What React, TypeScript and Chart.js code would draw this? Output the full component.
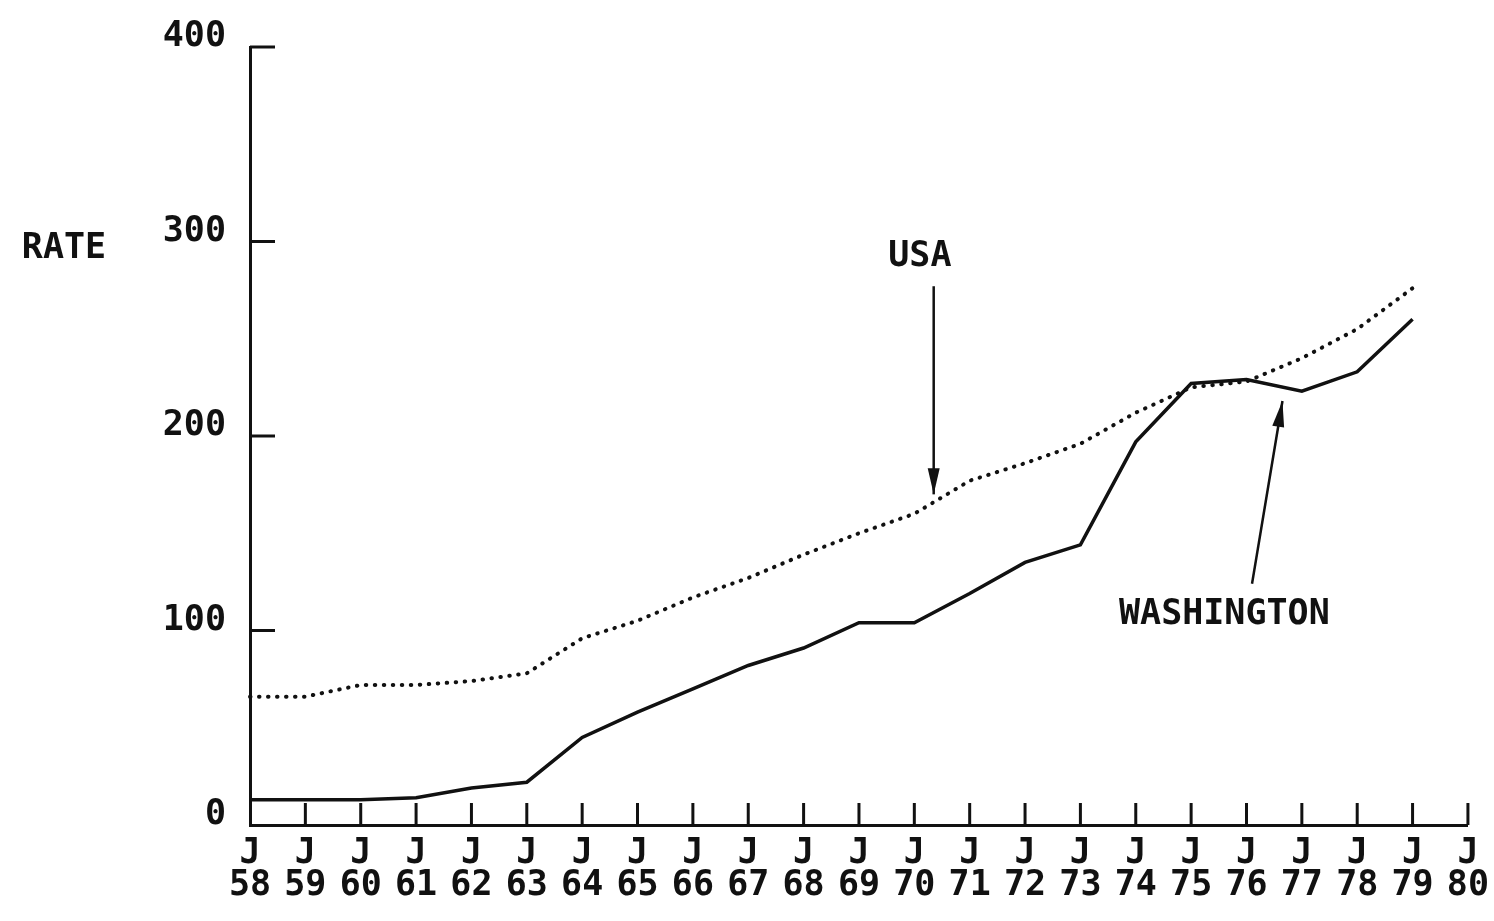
import React, { useEffect, useRef } from "react";
import { Chart, registerables } from "chart.js";

Chart.register(...registerables);

// ---- data ----
const years = [58, 59, 60, 61, 62, 63, 64, 65, 66, 67, 68, 69, 70, 71, 72, 73, 74, 75, 76, 77, 78, 79, 80];
const washington = [13, 13, 13, 14, 19, 22, 45, 58, 70, 82, 91, 104, 104, 119, 135, 144, 197, 227, 229, 223, 233, 260];
const usa = [66, 66, 72, 72, 74, 78, 96, 105, 117, 127, 139, 150, 160, 177, 186, 196, 212, 225, 228, 240, 255, 276];
const yTicks = [0, 100, 200, 300, 400];

const INK = "#111111";
const FONT = '"DejaVu Sans Mono", "Liberation Mono", monospace';
const WEIGHT = "bold";

const overlay = {
  id: "overlay",
  afterDraw(chart: any) {
    const { ctx, chartArea } = chart;
    const x = chart.scales.x;
    const y = chart.scales.y;
    ctx.save();
    ctx.strokeStyle = INK;
    ctx.fillStyle = INK;
    ctx.lineWidth = 3;
    ctx.lineCap = "butt";

    // x tick marks (upward, inside)
    for (let i = 1; i < years.length; i++) {
      const px = x.getPixelForValue(i);
      ctx.beginPath();
      ctx.moveTo(px, chartArea.bottom);
      ctx.lineTo(px, chartArea.bottom - 22);
      ctx.stroke();
    }
    // y tick marks (rightward, inside)
    for (const v of yTicks) {
      if (v === 0) continue;
      const py = y.getPixelForValue(v);
      ctx.beginPath();
      ctx.moveTo(chartArea.left, py);
      ctx.lineTo(chartArea.left + 25, py);
      ctx.stroke();
    }

    ctx.font = `${WEIGHT} 35px ${FONT}`;
    ctx.textAlign = "center";
    ctx.textBaseline = "middle";

    // axis title
    ctx.fillText("RATE", chartArea.left - 186, y.getPixelForValue(296));

    // annotations
    ctx.fillText("USA", x.getPixelForValue(12.1), y.getPixelForValue(292));
    ctx.fillText("WASHINGTON", x.getPixelForValue(17.6), y.getPixelForValue(108));

    const arrow = (x1: number, y1: number, x2: number, y2: number) => {
      ctx.lineWidth = 2.5;
      ctx.beginPath();
      ctx.moveTo(x1, y1);
      ctx.lineTo(x2, y2);
      ctx.stroke();
      const ang = Math.atan2(y2 - y1, x2 - x1);
      const len = 26;
      const half = 6;
      const bx = x2 - len * Math.cos(ang);
      const by = y2 - len * Math.sin(ang);
      ctx.beginPath();
      ctx.moveTo(x2, y2);
      ctx.lineTo(bx + half * Math.sin(ang), by - half * Math.cos(ang));
      ctx.lineTo(bx - half * Math.sin(ang), by + half * Math.cos(ang));
      ctx.closePath();
      ctx.fill();
    };
    arrow(x.getPixelForValue(12.35), y.getPixelForValue(277), x.getPixelForValue(12.35), y.getPixelForValue(170));
    arrow(x.getPixelForValue(18.1), y.getPixelForValue(124), x.getPixelForValue(18.65), y.getPixelForValue(218));

    ctx.restore();
  },
};

export default function App() {
  const ref = useRef<HTMLCanvasElement | null>(null);

  useEffect(() => {
    if (!ref.current) return;
    const chart = new Chart(ref.current, {
      type: "line",
      data: {
        labels: years.map((yr) => ["J", String(yr)]),
        datasets: [
          {
            label: "USA",
            data: usa,
            borderColor: INK,
            borderWidth: 4,
            borderDash: [0.5, 8.5],
            borderCapStyle: "round",
            pointRadius: 0,
            tension: 0,
            fill: false,
          },
          {
            label: "WASHINGTON",
            data: washington,
            borderColor: INK,
            borderWidth: 3.5,
            pointRadius: 0,
            tension: 0,
            fill: false,
          },
        ],
      },
      options: {
        animation: false,
        responsive: false,
        maintainAspectRatio: false,
        events: [],
        layout: { padding: { top: 47, right: 22, left: 0, bottom: 0 } },
        plugins: {
          legend: { display: false },
          tooltip: { enabled: false },
          title: { display: false },
        },
        scales: {
          x: {
            type: "category",
            offset: false,
            grid: { display: false },
            border: { display: true, color: INK, width: 3 },
            ticks: {
              color: INK,
              font: { family: FONT, size: 35, weight: WEIGHT, lineHeight: 0.92 },
              padding: 5,
              maxRotation: 0,
              minRotation: 0,
              autoSkip: false,
            },
            afterFit: (s: any) => {
              s.height = 96;
            },
          },
          y: {
            type: "linear",
            min: 0,
            max: 400,
            grid: { display: false },
            border: { display: true, color: INK, width: 3 },
            ticks: {
              stepSize: 100,
              color: INK,
              font: { family: FONT, size: 35, weight: WEIGHT },
              padding: 16,
              labelOffset: -10,
            },
            afterFit: (s: any) => {
              s.width = 250;
            },
          },
        },
      },
      plugins: [overlay],
    });
    return () => chart.destroy();
  }, []);

  return (
    <div style={{ position: "fixed", left: 0, top: 0, width: 1494, height: 921, background: "#fff" }}>
      <canvas ref={ref} width={1494} height={921} style={{ width: 1494, height: 921, display: "block" }} />
    </div>
  );
}
